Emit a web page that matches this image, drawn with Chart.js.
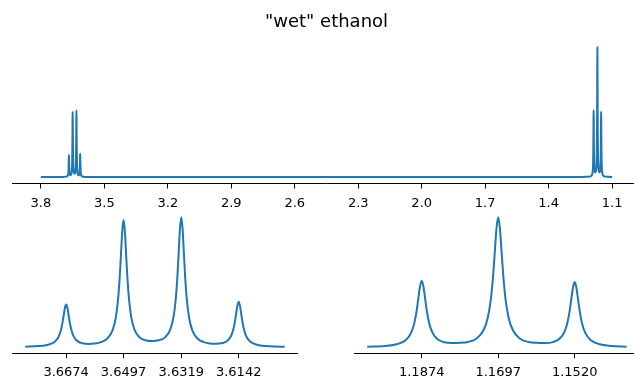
<!DOCTYPE html>
<html>
<head>
<meta charset="utf-8">
<script src="https://cdn.jsdelivr.net/npm/chart.js@4"></script>
<style>
    html, body { margin: 0; padding: 0; background: #fff; overflow: hidden; width: 634px; height: 379px; }
    .panel { position: absolute; }
</style>
</head>
<body>
<div class="panel" style="left:0;top:0"><canvas id="spectrumFull" width="660" height="214"></canvas></div>
<div class="panel" style="left:0;top:200px"><canvas id="spectrumQuartet" width="310" height="184"></canvas></div>
<div class="panel" style="left:340px;top:200px"><canvas id="spectrumTriplet" width="320" height="184"></canvas></div>
<script>
// chemical shift (ppm) and signal intensity
const ppm = [
    3.80, 3.75, 3.72, 3.70,
    // CH2 quartet
    3.6800, 3.6760, 3.6730, 3.6710, 3.6698, 3.6691, 3.6686, 3.6682, 3.6678, 3.6674,
    3.6670, 3.6666, 3.6662, 3.6657, 3.6650, 3.6640, 3.6624, 3.6604, 3.6586, 3.6567,
    3.6547, 3.6531, 3.6521, 3.6514, 3.6509, 3.6505, 3.6501, 3.6497, 3.6493, 3.6489,
    3.6485, 3.6480, 3.6473, 3.6463, 3.6447, 3.6427, 3.6408, 3.6389, 3.6369, 3.6353,
    3.6343, 3.6336, 3.6331, 3.6327, 3.6323, 3.6319, 3.6315, 3.6311, 3.6307, 3.6302,
    3.6295, 3.6285, 3.6269, 3.6249, 3.6231, 3.6212, 3.6192, 3.6176, 3.6166, 3.6159,
    3.6154, 3.6150, 3.6146, 3.6142, 3.6138, 3.6134, 3.6130, 3.6125, 3.6118, 3.6106,
    3.6086, 3.6056, 3.6030, 3.6000,
    3.58, 3.55, 3.50, 3.30, 2.50, 1.60, 1.40, 1.30, 1.25, 1.22,
    // CH3 triplet
    1.2000, 1.1960, 1.1930, 1.1910, 1.1898, 1.1891, 1.1886, 1.1882, 1.1878, 1.1874,
    1.1870, 1.1866, 1.1862, 1.1857, 1.1850, 1.1840, 1.1824, 1.1804, 1.1786, 1.1767,
    1.1747, 1.1731, 1.1721, 1.1714, 1.1709, 1.1705, 1.1701, 1.1697, 1.1693, 1.1689,
    1.1685, 1.1680, 1.1673, 1.1663, 1.1647, 1.1627, 1.1608, 1.1590, 1.1570, 1.1554,
    1.1544, 1.1537, 1.1532, 1.1528, 1.1524, 1.1520, 1.1516, 1.1512, 1.1508, 1.1503,
    1.1496, 1.1484, 1.1464, 1.1434, 1.1400,
    1.12, 1.10
];
const intensity = [
    0.0001, 0.0003, 0.0006, 0.0011,
    0.0047, 0.0082, 0.0160, 0.0326, 0.0608, 0.0966, 0.1394, 0.1859, 0.2332, 0.2552,
    0.2337, 0.1868, 0.1407, 0.0983, 0.0632, 0.0393, 0.0252, 0.0210, 0.0235, 0.0315,
    0.0535, 0.1010, 0.1752, 0.2820, 0.4103, 0.5494, 0.6906, 0.7557, 0.6909, 0.5499,
    0.4106, 0.2831, 0.1775, 0.1045, 0.0590, 0.0420, 0.0390, 0.0425, 0.0600, 0.1060,
    0.1800, 0.2880, 0.4190, 0.5610, 0.7050, 0.7720, 0.7050, 0.5600, 0.4180, 0.2870,
    0.1780, 0.1020, 0.0535, 0.0315, 0.0235, 0.0215, 0.0262, 0.0410, 0.0665, 0.1040,
    0.1490, 0.1980, 0.2480, 0.2710, 0.2470, 0.1970, 0.1480, 0.1020, 0.0640, 0.0340,
    0.0165, 0.0084, 0.0056, 0.0040,
    0.0011, 0.0005, 0.0002, 0.0001, 0.0001, 0.0001, 0.0002, 0.0004, 0.0008, 0.0024,
    0.0112, 0.0211, 0.0440, 0.0935, 0.1790, 0.2880, 0.4190, 0.5650, 0.7080, 0.7750,
    0.7080, 0.5650, 0.4200, 0.2900, 0.1840, 0.1110, 0.0670, 0.0550, 0.0570, 0.0680,
    0.1080, 0.2020, 0.3490, 0.5618, 0.8180, 1.0961, 1.3784, 1.5081, 1.3784, 1.0961,
    0.8180, 0.5618, 0.3490, 0.2020, 0.1080, 0.0680, 0.0570, 0.0550, 0.0660, 0.1095,
    0.1820, 0.2876, 0.4152, 0.5538, 0.6945, 0.7591, 0.6937, 0.5523, 0.4129, 0.2844,
    0.1772, 0.0930, 0.0438, 0.0211, 0.0118,
    0.0024, 0.0011
];

const fullTicks = [3.8, 3.5, 3.2, 2.9, 2.6, 2.3, 2.0, 1.7, 1.4, 1.1];
const quartetWindow = [3.60, 3.68];
const quartetTicks = [3.6674, 3.6497, 3.6319, 3.6142];
const tripletWindow = [1.14, 1.20];
const tripletTicks = [1.1874, 1.1697, 1.1520];

const lineColor = '#1f77b4';
const fontFamily = "'DejaVu Sans', sans-serif";

function pointsIn(lo, hi) {
    const pts = [];
    ppm.forEach((x, i) => {
        if (x >= lo - 1e-9 && x <= hi + 1e-9) pts.push({ x: x, y: intensity[i] });
    });
    return pts;
}

function drawSpectrum(canvasId, pts, ticks, decimals, padding, title) {
    const xs = pts.map(p => p.x);
    const ys = pts.map(p => p.y);
    const xMin = Math.min(...xs), xMax = Math.max(...xs);
    const yMin = Math.min(...ys), yMax = Math.max(...ys);
    const xPad = 0.05 * (xMax - xMin);  // matplotlib-like margins
    const yPad = 0.05 * (yMax - yMin);

    new Chart(document.getElementById(canvasId).getContext('2d'), {
        type: 'line',
        data: {
            datasets: [{
                data: pts,
                borderColor: lineColor,
                borderWidth: 2,
                pointRadius: 0,
                fill: false,
                cubicInterpolationMode: 'monotone'
            }]
        },
        options: {
            responsive: false,
            animation: false,
            layout: { padding: padding },
            plugins: {
                legend: { display: false },
                tooltip: { enabled: false },
                title: title ? {
                    display: true,
                    text: title,
                    color: '#000',
                    font: { family: fontFamily, size: 18, weight: 'normal' },
                    padding: { top: 12, bottom: 7.2 }
                } : { display: false }
            },
            scales: {
                x: {
                    type: 'linear',
                    reverse: true,
                    min: xMin - xPad,
                    max: xMax + xPad,
                    afterBuildTicks: (scale) => { scale.ticks = ticks.map(v => ({ value: v })); },
                    afterFit: (scale) => { scale.height = 30; },
                    grid: { drawOnChartArea: false, drawTicks: true, tickLength: 5, tickColor: '#000', tickWidth: 1 },
                    border: { display: true, color: '#000', width: 1 },
                    ticks: {
                        autoSkip: false,
                        maxRotation: 0,
                        padding: 7,
                        color: '#000',
                        font: { family: fontFamily, size: 13 },
                        callback: (value) => Number(value).toFixed(decimals)
                    }
                },
                y: {
                    display: false,
                    min: yMin - yPad,
                    max: yMax + yPad
                }
            }
        }
    });
}

drawSpectrum('spectrumFull', pointsIn(0, 10), fullTicks, 1,
    { left: 12.3, right: 19.3, top: 0, bottom: 0.5 }, '"wet" ethanol');
drawSpectrum('spectrumQuartet', pointsIn(quartetWindow[0], quartetWindow[1]), quartetTicks, 4,
    { left: 12.3, right: 12.3, top: 10.8, bottom: 0.7 });
drawSpectrum('spectrumTriplet', pointsIn(tripletWindow[0], tripletWindow[1]), tripletTicks, 4,
    { left: 14.3, right: 20.5, top: 10.8, bottom: 0.7 });
</script>
</body>
</html>
